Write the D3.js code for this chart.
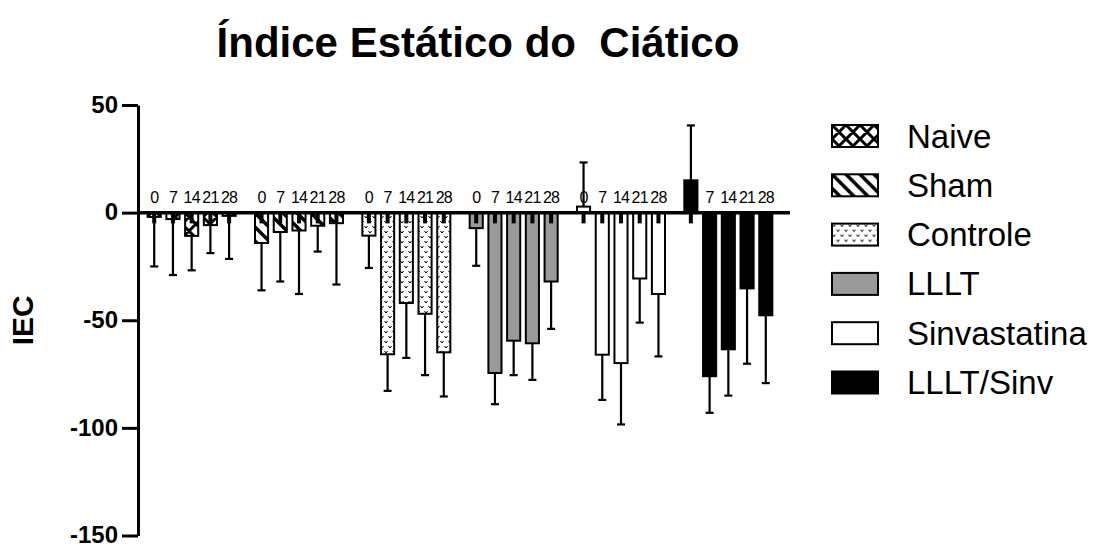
<!DOCTYPE html>
<html>
<head>
<meta charset="utf-8">
<script src="https://cdn.jsdelivr.net/npm/d3@7"></script>
<style>
  html, body { margin: 0; padding: 0; background: #fff; }
  svg { display: block; font-family: "Liberation Sans", Arial, sans-serif; }
</style>
</head>
<body>
<script>
// Groups, time points (days) and per-group means / SD
const groups = ["Naive", "Sham", "Controle", "LLLT", "Sinvastatina", "LLLT/Sinv"];
const days = ["0", "7", "14", "21", "28"];

const naiveMean = [-2, -3, -10.8, -5.8, -1.5];
const naiveSD   = [23, 26, 16, 13, 20];
const shamMean  = [-14.1, -9, -8.3, -6.1, -4.9];
const shamSD    = [22, 23, 29.5, 12, 28.5];
const controleMean = [-10.7, -65.8, -42, -47, -64.9];
const controleSD   = [15, 17, 25.5, 28.5, 20.5];
const llltMean = [-7.2, -74.5, -59.5, -60.7, -32];
const llltSD   = [17.5, 14.5, 16, 17, 22];
const sinvMean = [2.8, -66, -69.9, -30.6, -37.8];
const sinvSD   = [20.5, 21, 28.5, 20.5, 29];
const llltSinvMean = [15, -76, -63.5, -35.2, -47.7];
const llltSinvSD   = [25.5, 17, 21.5, 35, 31.5];

const yTicks = [50, 0, -50, -100, -150];

const means = [naiveMean, shamMean, controleMean, llltMean, sinvMean, llltSinvMean];
const sds = [naiveSD, shamSD, controleSD, llltSD, sinvSD, llltSinvSD];

const rows = [];
groups.forEach((g, gi) => days.forEach((d, di) => {
  rows.push({ group: g, day: d, mean: means[gi][di], sd: sds[gi][di] });
}));

const W = 1094, H = 548;
const svg = d3.select("body").append("svg").attr("width", W).attr("height", H);

// Fill patterns
const defs = svg.append("defs");
const hatch = (id, d, sw) => {
  const p = defs.append("pattern").attr("id", id)
    .attr("patternUnits", "userSpaceOnUse").attr("width", 14).attr("height", 14);
  p.append("rect").attr("width", 14).attr("height", 14).attr("fill", "#fff");
  p.append("path").attr("d", d).attr("stroke", "#000").attr("stroke-width", sw).attr("fill", "none");
};
const back = "M-3.5,10.5 L3.5,17.5 M0,0 L14,14 M10.5,-3.5 L17.5,3.5";
const fwd = "M-3.5,3.5 L3.5,-3.5 M0,14 L14,0 M10.5,17.5 L17.5,10.5";
hatch("pat-cross", back + " " + fwd, 3);
hatch("pat-diag", back, 3.5);

const dots = defs.append("pattern").attr("id", "pat-dots")
  .attr("patternUnits", "userSpaceOnUse").attr("width", 8).attr("height", 10);
dots.append("rect").attr("width", 8).attr("height", 10).attr("fill", "#fff");
dots.append("path")
  .attr("d", "M0.5,1 l1.5,2 l1.5,-2 M4.5,6 l1.5,2 l1.5,-2")
  .attr("stroke", "#000").attr("stroke-width", 1).attr("fill", "none");

const fills = {
  "Naive": "url(#pat-cross)",
  "Sham": "url(#pat-diag)",
  "Controle": "url(#pat-dots)",
  "LLLT": "#9a9a9a",
  "Sinvastatina": "#ffffff",
  "LLLT/Sinv": "#000000"
};

// Scales
const y = d3.scaleLinear().domain([-150, 50]).range([535.5, 105]);
const x0 = d3.scaleBand().domain(groups).range([138, 782]).paddingInner(0.18).paddingOuter(0.09);
const x1 = d3.scaleBand().domain(days).range([0, x0.bandwidth()]).paddingInner(0.3).paddingOuter(0);
const cx = r => x0(r.group) + x1(r.day) + x1.bandwidth() / 2;

// Title
svg.append("text")
  .attr("x", 478).attr("y", 57)
  .attr("text-anchor", "middle")
  .style("white-space", "pre")
  .attr("font-size", 42).attr("font-weight", "bold")
  .text("Índice Estático do  Ciático");

// Y axis
const yAxis = d3.axisLeft(y).tickValues(yTicks).tickSize(16).tickSizeOuter(0).tickPadding(4)
  .tickFormat(d => String(d));
const gy = svg.append("g").attr("transform", "translate(138,0)").call(yAxis);
gy.select(".domain").attr("stroke", "#000").attr("stroke-width", 3);
gy.selectAll(".tick line").attr("stroke", "#000").attr("stroke-width", 3);
gy.selectAll(".tick text")
  .attr("font-size", 24).attr("font-weight", "bold").attr("fill", "#000")
  .attr("dy", "0.3em")
  .attr("font-family", "'Liberation Sans', Arial, sans-serif");

svg.append("text")
  .attr("transform", `translate(33,${y(-50)}) rotate(-90)`)
  .attr("text-anchor", "middle")
  .attr("font-size", 30).attr("font-weight", "bold")
  .text("IEC");

// Day labels above the zero line
svg.append("g").selectAll("text").data(rows).join("text")
  .attr("x", cx).attr("y", y(0) - 10)
  .attr("text-anchor", "middle")
  .attr("font-size", 16)
  .attr("letter-spacing", -0.8)
  .text(d => d.day);

// Bars
svg.append("g").selectAll("rect").data(rows).join("rect")
  .attr("x", d => x0(d.group) + x1(d.day))
  .attr("width", x1.bandwidth())
  .attr("y", d => y(Math.max(d.mean, 0)))
  .attr("height", d => Math.abs(y(d.mean) - y(0)))
  .attr("fill", d => fills[d.group])
  .attr("stroke", "#000").attr("stroke-width", 2);

// Error bars (away from zero)
const tip = d => d.mean >= 0 ? d.mean + d.sd : d.mean - d.sd;
const eb = svg.append("g").attr("stroke", "#000").attr("stroke-width", 2.2);
eb.selectAll("line.v").data(rows).join("line").attr("class", "v")
  .attr("x1", cx).attr("x2", cx)
  .attr("y1", d => y(d.mean)).attr("y2", d => y(tip(d)));
eb.selectAll("line.c").data(rows).join("line").attr("class", "c")
  .attr("x1", d => cx(d) - 4).attr("x2", d => cx(d) + 4)
  .attr("y1", d => y(tip(d))).attr("y2", d => y(tip(d)));

// Short stubs under the zero line at every bar
const stubDepth = -5;
svg.append("g").selectAll("line").data(rows).join("line")
  .attr("x1", cx).attr("x2", cx)
  .attr("y1", y(0)).attr("y2", y(stubDepth))
  .attr("stroke", "#000").attr("stroke-width", 4);

// Zero line
svg.append("line")
  .attr("x1", 138).attr("x2", 790)
  .attr("y1", y(0)).attr("y2", y(0))
  .attr("stroke", "#000").attr("stroke-width", 3.5);

// Legend
const lg = svg.append("g").selectAll("g").data(groups).join("g")
  .attr("transform", (d, i) => `translate(832,${125 + i * 49.3})`);
lg.append("rect").attr("width", 46).attr("height", 22)
  .attr("fill", d => fills[d]).attr("stroke", "#000").attr("stroke-width", 2);
lg.append("text").attr("x", 75).attr("y", 22.5)
  .attr("font-size", 33)
  .text(d => d);
</script>
</body>
</html>
